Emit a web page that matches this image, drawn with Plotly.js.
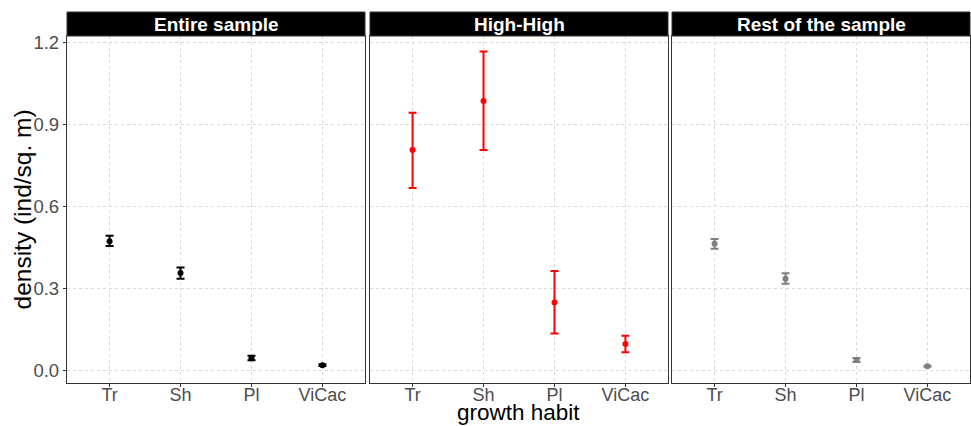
<!DOCTYPE html>
<html>
<head>
<meta charset="utf-8">
<script src="https://cdn.plot.ly/plotly-3.0.1.min.js"></script>
<style>html,body{margin:0;padding:0;background:#fff;}#chart{width:971px;height:426px;}</style>
</head>
<body>
<div id="chart"></div>
<script>
const categories = ["Tr", "Sh", "Pl", "ViCac"];
const panelTitles = ["Entire sample", "High-High", "Rest of the sample"];

const entireMean = [0.473, 0.357, 0.046, 0.021];
const entireUpper = [0.493, 0.377, 0.055, 0.024];
const entireLower = [0.456, 0.336, 0.039, 0.018];

const highMean = [0.806, 0.985, 0.250, 0.098];
const highUpper = [0.942, 1.165, 0.365, 0.128];
const highLower = [0.667, 0.806, 0.137, 0.068];

const restMean = [0.464, 0.336, 0.040, 0.017];
const restUpper = [0.481, 0.356, 0.047, 0.019];
const restLower = [0.446, 0.318, 0.033, 0.015];

const yTicks = [0.0, 0.3, 0.6, 0.9, 1.2];

const colors = ["#000000", "#FF0000", "#7F7F7F"];
const means = [entireMean, highMean, restMean];
const uppers = [entireUpper, highUpper, restUpper];
const lowers = [entireLower, highLower, restLower];

const font = "Liberation Sans, Arial, Helvetica, sans-serif";
const traces = [];
for (let i = 0; i < 3; i++) {
  const m = means[i];
  traces.push({
    type: "scatter", mode: "markers",
    x: categories, y: m,
    xaxis: i === 0 ? "x" : "x" + (i + 1),
    yaxis: i === 0 ? "y" : "y" + (i + 1),
    marker: {color: colors[i], size: 6},
    error_y: {
      type: "data", symmetric: false,
      array: uppers[i].map((u, k) => u - m[k]),
      arrayminus: lowers[i].map((l, k) => m[k] - l),
      color: colors[i], thickness: 2, width: 4
    },
    showlegend: false, hoverinfo: "x+y"
  });
}

const W = 903, H = 347;
const domains = [[0, 298 / W], [303 / W, 601 / W], [605 / W, 1]];
const layout = {
  width: 971, height: 426,
  margin: {l: 67, r: 1, t: 36, b: 43},
  paper_bgcolor: "#fff", plot_bgcolor: "#fff",
  font: {family: font, color: "#4D4D4D"},
  showlegend: false,
  shapes: [], annotations: []
};
for (let i = 0; i < 3; i++) {
  const sx = i === 0 ? "" : String(i + 1);
  layout["xaxis" + sx] = {
    domain: domains[i], type: "category", categoryarray: categories,
    range: [-0.6, 3.6], anchor: "y" + sx,
    showgrid: true, gridcolor: "#DADADA", griddash: "3px,3px", gridwidth: 1,
    showline: true, mirror: true, linecolor: "#333333", linewidth: 1.2,
    ticks: "outside", ticklen: 3, tickcolor: "#333333",
    ticklabelstandoff: -8,
    tickfont: {size: 18, color: "#4D4D4D", family: font},
    zeroline: false, fixedrange: true
  };
  layout["yaxis" + sx] = {
    domain: [0, 1], range: [-0.044, 1.222], anchor: "x" + sx,
    tickvals: yTicks, ticktext: yTicks.map(v => v.toFixed(1)),
    showticklabels: i === 0,
    ticks: i === 0 ? "outside" : "", ticklen: 3, tickcolor: "#333333",
    showgrid: true, gridcolor: "#DADADA", griddash: "3px,3px", gridwidth: 1,
    showline: true, mirror: true, linecolor: "#333333", linewidth: 1.2,
    tickfont: {size: 18.5, color: "#4D4D4D", family: font},
    zeroline: false, fixedrange: true
  };
  layout.shapes.push({
    type: "rect", xref: "paper", yref: "paper",
    x0: domains[i][0], x1: domains[i][1], y0: 1, y1: 1 + 24 / H,
    fillcolor: "#000", line: {color: "#333", width: 1}
  });
  layout.annotations.push({
    xref: "paper", yref: "paper",
    x: (domains[i][0] + domains[i][1]) / 2, y: 1 + 12 / H,
    text: "<b>" + panelTitles[i] + "</b>", showarrow: false,
    xanchor: "center", yanchor: "middle",
    font: {size: 19, color: "#fff", family: font}
  });
}
layout.annotations.push({
  xref: "paper", yref: "paper", x: 0.5, y: -43 / H,
  text: "growth habit", showarrow: false, xanchor: "center", yanchor: "bottom",
  borderpad: 0,
  font: {size: 22.5, color: "#000", family: font}
});
layout.annotations.push({
  xref: "paper", yref: "paper", x: -45 / W, y: 0.5,
  text: "density (ind/sq. m)", showarrow: false, textangle: -90,
  xanchor: "center", yanchor: "middle",
  font: {size: 24.5, color: "#000", family: font}
});

Plotly.newPlot("chart", traces, layout, {displayModeBar: false, staticPlot: true});
</script>
</body>
</html>
